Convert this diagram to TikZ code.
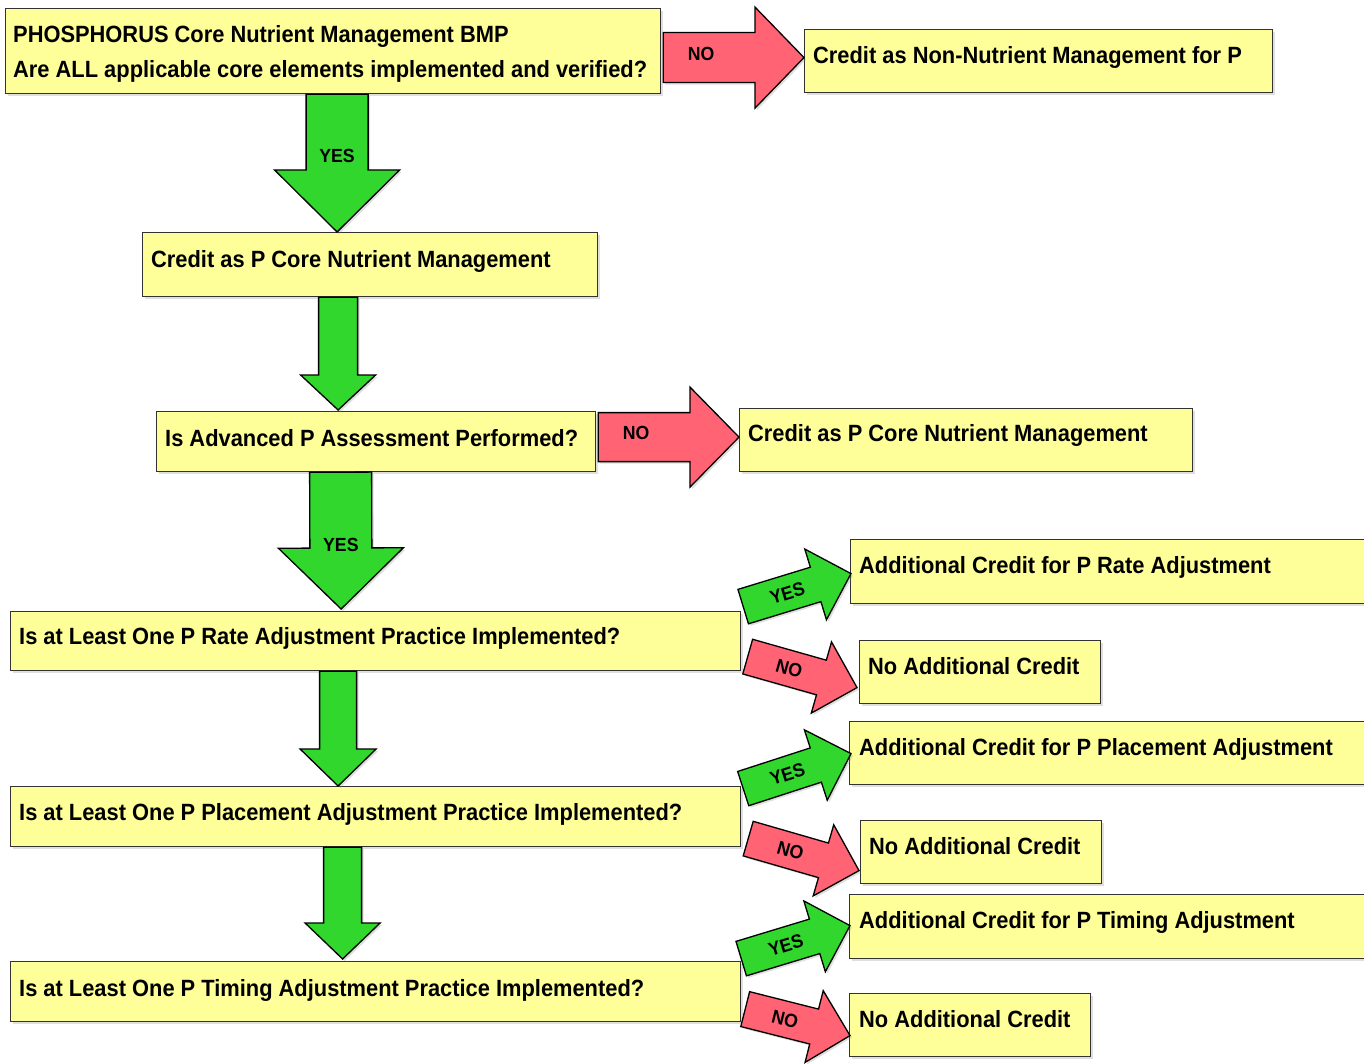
\documentclass[tikz,border=0pt]{standalone}
\usepackage{fontspec}
\newfontfamily\bx{Liberation Sans}[FakeStretch=0.93]
\usetikzlibrary{calc,shadows}
\definecolor{byel}{RGB}{255,255,153}
\definecolor{agreen}{RGB}{50,215,45}
\definecolor{ared}{RGB}{255,99,116}
\tikzset{
  box/.style={draw=black!80, line width=1.2pt, fill=byel, inner sep=0pt, anchor=north west,
    drop shadow={opacity=0.25, shadow xshift=2pt, shadow yshift=-2pt}},
  txt/.style={anchor=base west, inner sep=0pt, font=\bx\bfseries\fontsize{23.5}{28}\selectfont},
  lbl/.style={inner sep=0pt, font=\bx\bfseries\fontsize{19}{22}\selectfont},
  garr/.style={draw=black, line width=1.3pt, fill=agreen, line join=miter,
    drop shadow={opacity=0.25, shadow xshift=2pt, shadow yshift=-2pt}},
  rarr/.style={draw=black, line width=1.3pt, fill=ared, line join=miter,
    drop shadow={opacity=0.25, shadow xshift=2pt, shadow yshift=-2pt}},
}
% block arrow: #1 tail, #2 tip, #3 shaft half width, #4 head half width, #5 head length, #6 style
\newcommand\blockarr[6]{%
  \coordinate (hb) at ($(#2)!#5pt!(#1)$);
  \draw[#6] ($(#1)!#3pt!90:(#2)$) -- ($(hb)!#3pt!-90:(#1)$) -- ($(hb)!#4pt!-90:(#1)$)
    -- (#2) -- ($(hb)!#4pt!90:(#1)$) -- ($(hb)!#3pt!90:(#1)$) -- ($(#1)!#3pt!-90:(#2)$) -- cycle;}
\begin{document}
\begin{tikzpicture}[x=1pt,y=-1pt]
\useasboundingbox (0,0) rectangle (1364,1064);
% boxes
\node[box, minimum width=655pt, minimum height=85pt] (q1) at (5,8) {};
\node[box, minimum width=468pt, minimum height=63pt] (r1) at (804,29) {};
\node[box, minimum width=455pt, minimum height=64pt] (c1) at (142,232) {};
\node[box, minimum width=439pt, minimum height=60pt] (q2) at (156,411) {};
\node[box, minimum width=453pt, minimum height=63pt] (r2) at (739,408) {};
\node[box, minimum width=730pt, minimum height=59pt] (q3) at (10,611) {};
\node[box, minimum width=530pt, minimum height=64pt] (y3) at (850,539) {};
\node[box, minimum width=241pt, minimum height=63pt] (n3) at (859,640) {};
\node[box, minimum width=730pt, minimum height=60pt] (q4) at (10,786) {};
\node[box, minimum width=531pt, minimum height=63pt] (y4) at (849,721) {};
\node[box, minimum width=241pt, minimum height=63pt] (n4) at (860,820) {};
\node[box, minimum width=730pt, minimum height=60pt] (q5) at (10,961) {};
\node[box, minimum width=531pt, minimum height=64pt] (y5) at (849,894) {};
\node[box, minimum width=241pt, minimum height=63pt] (n5) at (849,993) {};
% texts
\node[txt] (q1a) at (13,42.5) {PHOSPHORUS Core Nutrient Management BMP};
\node[txt] (q1b) at (13,77.5) {Are ALL applicable core elements implemented and verified?};
\node[txt] (r1t) at (813,63.5) {Credit as Non-Nutrient Management for P};
\node[txt] (c1t) at (151,267.5) {Credit as P Core Nutrient Management};
\node[txt] (q2t) at (165,446.5) {Is Advanced P Assessment Performed?};
\node[txt] (r2t) at (748,441.5) {Credit as P Core Nutrient Management};
\node[txt] (q3t) at (19,644.5) {Is at Least One P Rate Adjustment Practice Implemented?};
\node[txt] (y3t) at (859,573.5) {Additional Credit for P Rate Adjustment};
\node[txt] (n3t) at (868,674) {No Additional Credit};
\node[txt] (q4t) at (19,820.5) {Is at Least One P Placement Adjustment Practice Implemented?};
\node[txt] (y4t) at (859,755.5) {Additional Credit for P Placement Adjustment};
\node[txt] (n4t) at (869,854.5) {No Additional Credit};
\node[txt] (q5t) at (19,996.5) {Is at Least One P Timing Adjustment Practice Implemented?};
\node[txt] (y5t) at (859,928.5) {Additional Credit for P Timing Adjustment};
\node[txt] (n5t) at (859,1027.5) {No Additional Credit};
% connector end points
\coordinate (a1s) at ($(q1.south)+(4,0)$);   \coordinate (a1e) at ($(c1.north)+(-33,0)$);
\coordinate (a2s) at ($(c1.south)+(-32,0)$); \coordinate (a2e) at ($(q2.north)+(-38,-1)$);
\coordinate (a3s) at ($(q2.south)+(-35.5,0)$); \coordinate (a3e) at ($(q3.north)+(-34.5,-2)$);
\coordinate (a4s) at ($(q3.south)+(-37.5,0)$); \coordinate (a4e) at ($(q4.north)+(-37.5,0)$);
\coordinate (a5s) at ($(q4.south)+(-33,0)$); \coordinate (a5e) at ($(q5.north)+(-33,-2)$);
\coordinate (b1s) at ($(q1.east)+(2,6.5)$);  \coordinate (b1e) at ($(r1.west)+(0,-3.5)$);
\coordinate (b2s) at ($(q2.east)+(2,-4.5)$); \coordinate (b2e) at ($(r2.west)+(0,-3)$);
\coordinate (y3s) at ($(q3.east)+(2,-34.5)$); \coordinate (y3e) at ($(y3.west)+(1,2)$);
\coordinate (n3s) at ($(q3.east)+(6.5,15.5)$); \coordinate (n3e) at ($(n3.west)+(-2,15.5)$);
\coordinate (y4s) at ($(q4.east)+(2,-28)$); \coordinate (y4e) at ($(y4.west)+(2,0.5)$);
\coordinate (n4s) at ($(q4.east)+(7,22)$); \coordinate (n4e) at ($(n4.west)+(-1,18.5)$);
\coordinate (y5s) at ($(q5.east)+(0,-33)$); \coordinate (y5e) at ($(y5.west)+(1,-1)$);
\coordinate (n5s) at ($(q5.east)+(4,17.5)$); \coordinate (n5e) at ($(n5.west)+(1,10.5)$);
% arrows
\blockarr{a1s}{a1e}{31}{62.5}{62}{garr}
\blockarr{a2s}{a2e}{19.5}{37.5}{35}{garr}
\blockarr{a3s}{a3e}{31}{62.5}{61}{garr}
\blockarr{a4s}{a4e}{18.5}{38}{37}{garr}
\blockarr{a5s}{a5e}{19}{37.5}{36}{garr}
\blockarr{b1s}{b1e}{25}{50.5}{49}{rarr}
\blockarr{b2s}{b2e}{24.5}{50}{49}{rarr}
\blockarr{y3s}{y3e}{18}{37}{37}{garr}
\blockarr{n3s}{n3e}{18}{37}{37}{rarr}
\blockarr{y4s}{y4e}{18}{37}{37}{garr}
\blockarr{n4s}{n4e}{18}{37}{37}{rarr}
\blockarr{y5s}{y5e}{18}{37}{37}{garr}
\blockarr{n5s}{n5e}{18}{37}{37}{rarr}
% labels
\path (a1s) -- (a1e) node[lbl, pos=0.45] {YES};
\path (a3s) -- (a3e) node[lbl, pos=0.53] {YES};
\path (b1s) -- (b1e) node[lbl, pos=0.27, yshift=4pt] {NO};
\path (b2s) -- (b2e) node[lbl, pos=0.27, yshift=4pt] {NO};
\path (y3s) -- (y3e) node[lbl, pos=0.41, sloped] {YES};
\path (n3s) -- (n3e) node[lbl, pos=0.38, sloped] {NO};
\path (y4s) -- (y4e) node[lbl, pos=0.41, sloped] {YES};
\path (n4s) -- (n4e) node[lbl, pos=0.38, sloped] {NO};
\path (y5s) -- (y5e) node[lbl, pos=0.41, sloped] {YES};
\path (n5s) -- (n5e) node[lbl, pos=0.38, sloped] {NO};
\end{tikzpicture}
\end{document}
